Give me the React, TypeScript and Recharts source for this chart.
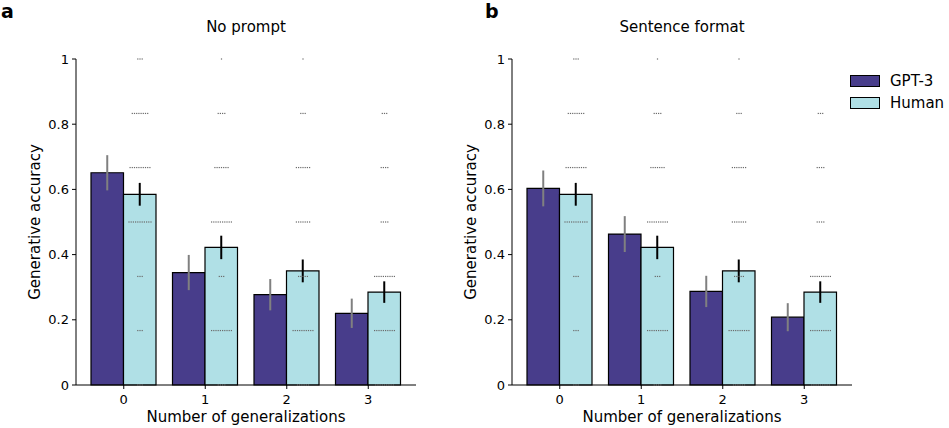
import React from 'react';
import { ComposedChart, Bar, ErrorBar, Scatter, XAxis, YAxis } from 'recharts';

const categories = ['0', '1', '2', '3'];
const gptNoPrompt = [0.651, 0.345, 0.277, 0.22];
const gptNoPromptErr = [0.054, 0.054, 0.048, 0.045];
const gptSentence = [0.603, 0.463, 0.287, 0.208];
const gptSentenceErr = [0.055, 0.055, 0.048, 0.043];
const human = [0.585, 0.422, 0.35, 0.285];
const humanErr = [0.035, 0.036, 0.035, 0.033];
// accuracy levels (out of 6 problems) and how many participants scored each
const accuracyLevels = [0, 0.167, 0.333, 0.5, 0.667, 0.833, 1];
const humanCounts = [
  [3, 3, 3, 11, 10, 8, 3],
  [4, 10, 3, 10, 7, 4, 1],
  [6, 10, 5, 7, 7, 3, 1],
  [9, 10, 10, 4, 4, 3, 0],
];
const yTicks = [0, 0.2, 0.4, 0.6, 0.8, 1];

const FONT = '"DejaVu Sans", sans-serif';
const BAR = 32.5;

const buildRows = (gpt: number[], gptErr: number[]) =>
  categories.map((name, i) => {
    const row: any = { name, gpt: gpt[i], gptErr: gptErr[i], human: human[i], humanErr: humanErr[i] };
    accuracyLevels.forEach((lv, k) => {
      row['lv' + k] = lv;
      row['n' + k] = humanCounts[i][k];
    });
    return row;
  });

const dotShape = (k: number) => (props: any) => {
  const { cx, cy, payload } = props;
  const n = payload['n' + k];
  if (!n) return <g />;
  const dots = [];
  for (let i = 0; i < n; i++) {
    const x = cx + BAR / 2 + (i - (n - 1) / 2) * 2.2;
    dots.push(<rect key={i} x={x - 0.6} y={cy - 0.6} width={1.2} height={1.2} fill="#6b6b6b" />);
  }
  return <g>{dots}</g>;
};

const Panel = ({ gpt, gptErr, left, title, letter }: any) => {
  const rows = buildRows(gpt, gptErr);
  return (
    <div style={{ position: 'absolute', left, top: 0, width: 460, height: 428 }}>
      <ComposedChart
        width={460}
        height={428}
        data={rows}
        margin={{ top: 59, right: 44, bottom: 0, left: 36 }}
        barGap={0}
      >
        <XAxis
          dataKey="name"
          height={43}
          padding={{ left: 7, right: 7 }}
          tick={{ fill: '#000', fontSize: 13, fontFamily: FONT }}
          tickSize={4}
          tickMargin={6}
          stroke="#000"
        />
        <YAxis
          domain={[0, 1]}
          ticks={yTicks}
          width={40}
          tickFormatter={(v) => String(v)}
          tick={{ fill: '#000', fontSize: 13, fontFamily: FONT }}
          tickSize={4}
          tickMargin={3}
          stroke="#000"
        />
        <Bar dataKey="gpt" barSize={BAR} fill="#483D8B" stroke="#000" strokeWidth={1.2} isAnimationActive={false}>
          <ErrorBar dataKey="gptErr" width={0} stroke="#808080" strokeWidth={2} />
        </Bar>
        <Bar dataKey="human" barSize={BAR} fill="#B0E0E6" stroke="#000" strokeWidth={1.2} isAnimationActive={false}>
          <ErrorBar dataKey="humanErr" width={0} stroke="#000" strokeWidth={2} />
        </Bar>
        {accuracyLevels.map((_, k) => (
          <Scatter key={k} dataKey={'lv' + k} shape={dotShape(k)} isAnimationActive={false} />
        ))}
      </ComposedChart>
      <div style={{ position: 'absolute', left: 76, width: 340, top: 18, textAlign: 'center', fontSize: 15, fontFamily: FONT }}>
        {title}
      </div>
      <div style={{ position: 'absolute', left: 76, width: 340, top: 408, textAlign: 'center', fontSize: 15, fontFamily: FONT }}>
        Number of generalizations
      </div>
      <div style={{ position: 'absolute', left: 35, top: 222, width: 0, height: 0 }}>
        <div style={{ position: 'absolute', left: -100, top: -10, width: 200, textAlign: 'center', transform: 'rotate(-90deg)', fontSize: 15, fontFamily: FONT, lineHeight: '20px' }}>
          Generative accuracy
        </div>
      </div>
      <div style={{ position: 'absolute', left: letter === 'a' ? 1 : 49, top: 1, fontSize: 19, fontWeight: 'bold', fontFamily: FONT, lineHeight: '20px' }}>
        {letter}
      </div>
    </div>
  );
};

const legendItems = [
  { label: 'GPT-3', color: '#483D8B' },
  { label: 'Human', color: '#B0E0E6' },
];

export default function App() {
  return (
    <div style={{ position: 'absolute', left: 0, top: 0, width: 949, height: 428, background: '#fff', overflow: 'hidden' }}>
      <Panel gpt={gptNoPrompt} gptErr={gptNoPromptErr} left={0} title="No prompt" letter="a" />
      <Panel gpt={gptSentence} gptErr={gptSentenceErr} left={436} title="Sentence format" letter="b" />
      <div style={{ position: 'absolute', left: 850, top: 70, fontFamily: FONT, fontSize: 15 }}>
        {legendItems.map((it) => (
          <div key={it.label} style={{ display: 'flex', alignItems: 'center', height: 22 }}>
            <div style={{ width: 28, height: 10, background: it.color, border: '1.2px solid #000', marginRight: 10 }} />
            <span>{it.label}</span>
          </div>
        ))}
      </div>
    </div>
  );
}
